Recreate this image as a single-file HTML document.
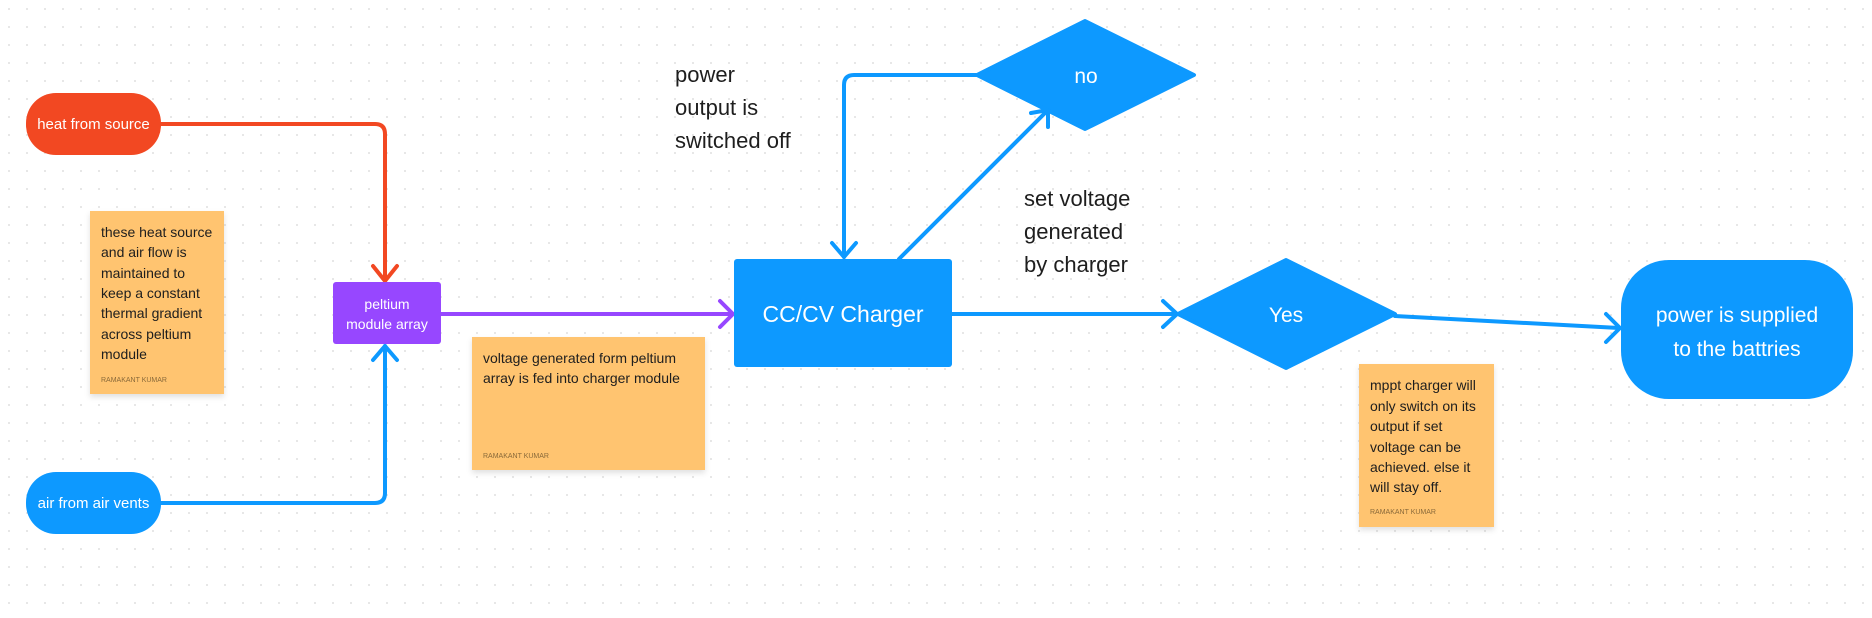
<!DOCTYPE html>
<html><head><meta charset="utf-8"><style>
html,body{margin:0;padding:0;background:#fff;}
svg{display:block;font-family:"Liberation Sans",sans-serif;}
</style></head><body>
<svg width="1872" height="618" viewBox="0 0 1872 618" xmlns="http://www.w3.org/2000/svg">
<defs>
<pattern id="g" width="18" height="18" patternUnits="userSpaceOnUse"><circle cx="9" cy="9" r="0.9" fill="#d6d6d6"/></pattern>
<filter id="sh" x="-10%" y="-10%" width="120%" height="130%"><feDropShadow dx="0" dy="3" stdDeviation="3" flood-opacity="0.12"/></filter>
</defs>
<rect width="1872" height="618" fill="url(#g)"/>

<!-- connectors -->
<g fill="none" stroke-width="4" stroke-linecap="round" stroke-linejoin="round">
<path d="M161 124 H375 Q385 124 385 134 V280" stroke="#f24822"/>
<path d="M373 266 L385 281 L397 266" stroke="#f24822"/>
<path d="M161 503 H375 Q385 503 385 493 V346" stroke="#0d99ff"/>
<path d="M373 360 L385 346 L397 360" stroke="#0d99ff"/>
<path d="M441 314 H732" stroke="#9747ff"/>
<path d="M720 301 L733 314 L720 327" stroke="#9747ff"/>
<path d="M844 257 V85 Q844 75 854 75 H979" stroke="#0d99ff"/>
<path d="M832 243 L844 257 L856 243" stroke="#0d99ff"/>
<path d="M899 259 L1048 110" stroke="#0d99ff"/>
<path d="M1031 113 L1048 110 L1048 127" stroke="#0d99ff"/>
<path d="M952 314 H1176" stroke="#0d99ff"/>
<path d="M1163 301 L1177 314 L1163 327" stroke="#0d99ff"/>
<path d="M1395 316 L1619 328" stroke="#0d99ff"/>
<path d="M1606 314 L1620 328 L1606 342" stroke="#0d99ff"/>
</g>

<!-- nodes -->
<rect x="26" y="93" width="135" height="62" rx="30" fill="#f24822"/>
<text x="93.5" y="129" font-size="15" fill="#fff" text-anchor="middle">heat from source</text>
<rect x="26" y="472" width="135" height="62" rx="30" fill="#0d99ff"/>
<text x="93.5" y="508" font-size="15" fill="#fff" text-anchor="middle">air from air vents</text>

<rect x="333" y="282" width="108" height="62" rx="3" fill="#9747ff"/>
<text x="387" y="309" font-size="14" fill="#fff" text-anchor="middle">peltium</text>
<text x="387" y="329" font-size="14" fill="#fff" text-anchor="middle">module array</text>

<rect x="734" y="259" width="218" height="108" rx="3" fill="#0d99ff"/>
<text x="843" y="322" font-size="23" fill="#fff" text-anchor="middle">CC/CV Charger</text>

<polygon points="977,75 1085,21 1194,75 1085,129" fill="#0d99ff" stroke="#0d99ff" stroke-width="4" stroke-linejoin="round"/>
<text x="1086" y="83" font-size="21" fill="#fff" text-anchor="middle">no</text>
<polygon points="1178,314 1286,260 1395,314 1286,368" fill="#0d99ff" stroke="#0d99ff" stroke-width="4" stroke-linejoin="round"/>
<text x="1286" y="322" font-size="21" fill="#fff" text-anchor="middle">Yes</text>

<rect x="1621" y="260" width="232" height="139" rx="48" fill="#0d99ff"/>
<text x="1737" y="322" font-size="21" fill="#fff" text-anchor="middle">power is supplied</text>
<text x="1737" y="356" font-size="21" fill="#fff" text-anchor="middle">to the battries</text>

<!-- free text -->
<g font-size="22" fill="#1e1e1e">
<text x="675" y="82">power</text>
<text x="675" y="115">output is</text>
<text x="675" y="148">switched off</text>
<text x="1024" y="206">set voltage</text>
<text x="1024" y="239">generated</text>
<text x="1024" y="272">by charger</text>
</g>

<!-- stickies -->
<g filter="url(#sh)">
<rect x="90" y="211" width="134" height="183" fill="#ffc470"/>
<rect x="472" y="337" width="233" height="133" fill="#ffc470"/>
<rect x="1359" y="364" width="135" height="163" fill="#ffc470"/>
</g>
<g font-size="14" fill="#1e1e1e">
<text x="101" y="237">these heat source</text>
<text x="101" y="257">and air flow is</text>
<text x="101" y="278">maintained to</text>
<text x="101" y="298">keep a constant</text>
<text x="101" y="318">thermal gradient</text>
<text x="101" y="339">across peltium</text>
<text x="101" y="359">module</text>
<text x="483" y="363">voltage generated form peltium</text>
<text x="483" y="383">array is fed into charger module</text>
<text x="1370" y="390">mppt charger will</text>
<text x="1370" y="411">only switch on its</text>
<text x="1370" y="431">output if set</text>
<text x="1370" y="452">voltage can be</text>
<text x="1370" y="472">achieved. else it</text>
<text x="1370" y="492">will stay off.</text>
</g>
<g font-size="7" fill="#8a6a3a">
<text x="101" y="382">RAMAKANT KUMAR</text>
<text x="483" y="458">RAMAKANT KUMAR</text>
<text x="1370" y="514">RAMAKANT KUMAR</text>
</g>
</svg>
</body></html>
